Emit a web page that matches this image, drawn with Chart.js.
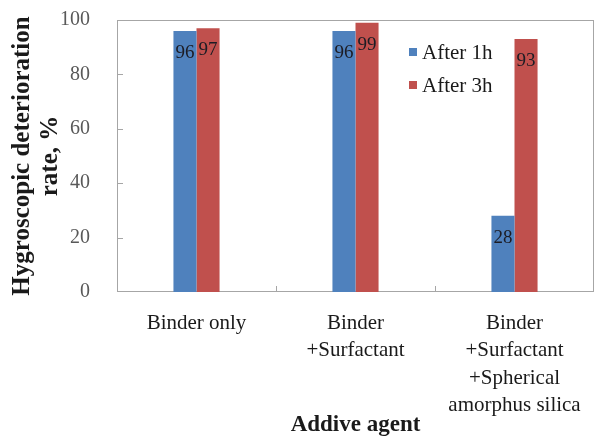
<!DOCTYPE html>
<html>
<head>
<meta charset="utf-8">
<script src="https://cdn.jsdelivr.net/npm/chart.js@4"></script>
<style>
  html, body { margin: 0; padding: 0; background: #fff; }
  #wrap { width: 595px; height: 439px; }
</style>
</head>
<body>
<div id="wrap"><canvas id="chart1" width="595" height="439"></canvas></div>
<script>
var categories = [
    ['Binder only'],
    ['Binder', '+Surfactant'],
    ['Binder', '+Surfactant', '+Spherical', 'amorphus silica']
];
var after1h = [96, 96, 28];
var after3h = [97, 99, 93];
var seriesNames = ['After 1h', 'After 3h'];
var yTicks = [0, 20, 40, 60, 80, 100];

var serif = "'Liberation Serif', 'Times New Roman', serif";

// frame around plot area + inside tick marks (Excel style)
var frame = {
    id: 'frame',
    beforeDatasetsDraw: function (chart) {
        var ctx = chart.ctx, a = chart.chartArea;
        var x = chart.scales.x, y = chart.scales.y;
        ctx.save();
        ctx.strokeStyle = '#a6a6a6';
        ctx.lineWidth = 1;
        ctx.strokeRect(a.left + 0.5, a.top + 0.5, a.right - a.left - 1, a.bottom - a.top - 1);
        ctx.beginPath();
        yTicks.forEach(function (v) {
            if (v === 0 || v === 100) return;
            var py = Math.round(y.getPixelForValue(v)) + 0.5;
            ctx.moveTo(a.left, py);
            ctx.lineTo(a.left + 6, py);
        });
        for (var i = 0; i < categories.length - 1; i++) {
            var px = Math.round((x.getPixelForValue(i) + x.getPixelForValue(i + 1)) / 2) + 0.5;
            ctx.moveTo(px, a.bottom);
            ctx.lineTo(px, a.bottom - 6);
        }
        ctx.stroke();
        ctx.restore();
    }
};

// value labels inside the bar tops
var valueLabels = {
    id: 'valueLabels',
    afterDatasetsDraw: function (chart) {
        var ctx = chart.ctx;
        ctx.save();
        ctx.font = '19px ' + serif;
        ctx.fillStyle = '#1c1c24';
        ctx.textAlign = 'center';
        ctx.textBaseline = 'middle';
        chart.data.datasets.forEach(function (ds, di) {
            chart.getDatasetMeta(di).data.forEach(function (bar, i) {
                ctx.fillText(ds.data[i], bar.x, bar.y + 22);
            });
        });
        ctx.restore();
    }
};

// legend drawn inside the plot area
var innerLegend = {
    id: 'innerLegend',
    afterDraw: function (chart) {
        var ctx = chart.ctx, a = chart.chartArea;
        var lx = a.left + 292, ly = a.top + 32;
        ctx.save();
        ctx.font = '21px ' + serif;
        ctx.textBaseline = 'middle';
        chart.data.datasets.forEach(function (ds, i) {
            var yy = ly + i * 33;
            ctx.fillStyle = ds.backgroundColor;
            ctx.fillRect(lx, yy - 4, 8, 8);
            ctx.fillStyle = '#1a1a1a';
            ctx.fillText(ds.label, lx + 13, yy + 1);
        });
        ctx.restore();
    }
};

var ctx1 = document.getElementById('chart1').getContext('2d');
var myChart = new Chart(ctx1, {
    type: 'bar',
    data: {
        labels: categories,
        datasets: [{
            label: seriesNames[0],
            data: after1h,
            backgroundColor: '#4f81bd',
            categoryPercentage: 0.29,
            barPercentage: 1
        }, {
            label: seriesNames[1],
            data: after3h,
            backgroundColor: '#c0504d',
            categoryPercentage: 0.29,
            barPercentage: 1
        }]
    },
    options: {
        responsive: false,
        animation: false,
        layout: { padding: { top: 20, right: 1, left: 0, bottom: 0 } },
        plugins: {
            legend: { display: false },
            tooltip: { enabled: false }
        },
        scales: {
            x: {
                grid: { display: false },
                border: { display: false },
                ticks: {
                    color: '#1a1a1a',
                    font: { family: serif, size: 21, lineHeight: 1.3 },
                    padding: 10,
                    maxRotation: 0,
                    autoSkip: false
                },
                title: {
                    display: true,
                    text: 'Addive agent',
                    color: '#1a1a1a',
                    font: { family: serif, size: 23, weight: 'bold', lineHeight: 1.2 },
                    padding: { top: 0, bottom: 0 }
                },
                afterFit: function (s) {
                    s.height = 147;
                    s.paddingLeft = 0;
                    s.paddingRight = 0;
                }
            },
            y: {
                min: 0,
                max: 100,
                grid: { display: false },
                border: { display: false },
                ticks: {
                    stepSize: 20,
                    color: '#595959',
                    font: { family: serif, size: 20 },
                    padding: 19
                },
                title: {
                    display: true,
                    text: ['Hygroscopic deterioration', 'rate, %'],
                    color: '#1a1a1a',
                    font: { family: serif, size: 25, weight: 'bold', lineHeight: 1.12 },
                    padding: { top: 9, bottom: 0 }
                },
                afterFit: function (s) {
                    s.width = 117;
                    s.paddingTop = 0;
                    s.paddingBottom = 0;
                }
            }
        }
    },
    plugins: [frame, valueLabels, innerLegend]
});
</script>
</body>
</html>
